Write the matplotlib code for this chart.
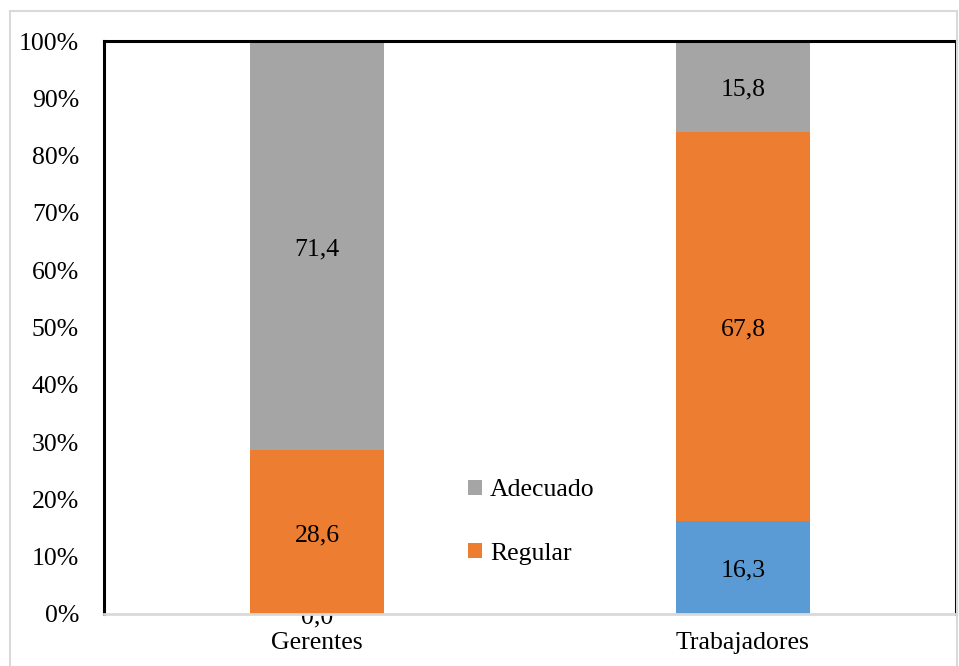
import numpy as np
import matplotlib.pyplot as plt
from matplotlib.patches import Rectangle

# Distribution (%) per group
grupos = ["Gerentes", "Trabajadores"]
deficiente = [0.0, 16.3]
regular = [28.6, 67.8]
adecuado = [71.4, 15.8]

c_def = "#5b9bd5"
c_reg = "#ed7d31"
c_ade = "#a5a5a5"

plt.rcParams["font.family"] = ["Liberation Serif", "DejaVu Serif"]
fs = 18.5

fig = plt.figure(figsize=(9.59, 6.66), dpi=100)
W, H = 959, 666
ax = fig.add_axes([104 / W, 1 - 614 / H, (956 - 104) / W, (614 - 41) / H])

# outer chart area border
fig.patches.append(Rectangle((10 / W, -0.1), (957 - 10) / W, 1.1 - 11 / H,
                             transform=fig.transFigure, fill=False,
                             edgecolor="#d9d9d9", linewidth=1.5))

# stacked to 100%
tot = np.array(deficiente) + np.array(regular) + np.array(adecuado)
d = np.array(deficiente) / tot * 100
r = np.array(regular) / tot * 100
a = np.array(adecuado) / tot * 100

x = np.arange(len(grupos))
w = 0.315
ax.bar(x, d, w, color=c_def, zorder=3, label="Deficiente")
b_reg = ax.bar(x, r, w, bottom=d, color=c_reg, zorder=3, label="Regular")
b_ade = ax.bar(x, a, w, bottom=d + r, color=c_ade, zorder=3, label="Adecuado")

# data labels (a zero segment's label sits behind the bar above it)
for i in range(len(grupos)):
    for val, lo, h in [(deficiente[i], 0, d[i]), (regular[i], d[i], r[i]),
                       (adecuado[i], d[i] + r[i], a[i])]:
        ax.text(x[i], lo + h / 2 - 0.6, f"{val:.1f}".replace(".", ","),
                ha="center", va="center", fontsize=fs,
                zorder=1 if h == 0 else 5, clip_on=False)

ax.set_xlim(-0.5, 1.5)
ax.set_ylim(0, 100)
ax.set_yticks(np.arange(0, 101, 10))
ax.set_yticklabels([f"{v}%" for v in range(0, 101, 10)])
ax.set_xticks(x)
ax.set_xticklabels(grupos)
ax.tick_params(axis="both", length=0, labelsize=fs)
ax.tick_params(axis="y", pad=18)
ax.tick_params(axis="x", pad=13)

for s in ["left", "top", "right"]:
    ax.spines[s].set_linewidth(2.2)
    ax.spines[s].set_color("black")
ax.spines["bottom"].set_color("#d9d9d9")
ax.spines["bottom"].set_linewidth(2)
for s in ax.spines.values():
    s.set_zorder(4)

ax.legend([b_ade, b_reg], ["Adecuado", "Regular"], loc="center left",
          bbox_to_anchor=(468 / W, 1 - 522 / H), bbox_transform=fig.transFigure,
          frameon=False, fontsize=fs, borderpad=0, borderaxespad=0,
          handlelength=0.55, handleheight=0.55, handletextpad=0.3,
          labelspacing=1.6)

fig.savefig("out.png", dpi=100)
